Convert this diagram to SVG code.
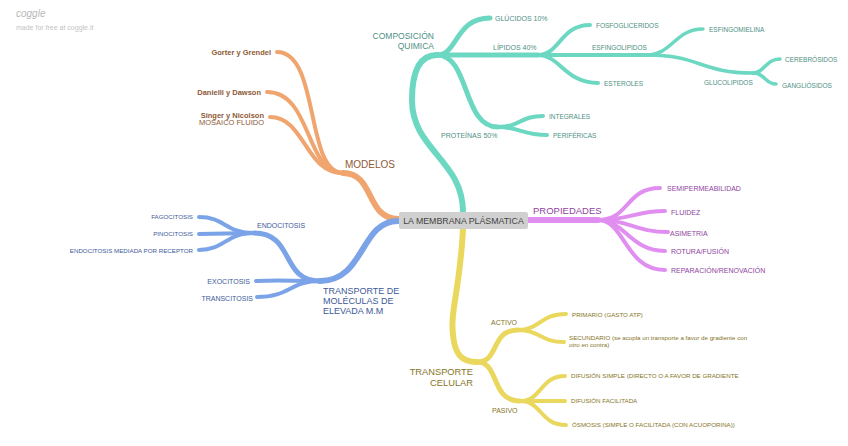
<svg xmlns="http://www.w3.org/2000/svg" width="848" height="446" viewBox="0 0 848 446">
<style>
text{font-family:"Liberation Sans",Arial,sans-serif}
.c{fill:none;stroke-linecap:round}
.t{stroke:#6dd8c2}.o{stroke:#f0a46e}.b{stroke:#7ba3e8}.p{stroke:#e08ef0}.y{stroke:#ead85e}
.w1{stroke-width:6}.w2{stroke-width:5}.w3{stroke-width:4}.w4{stroke-width:3.5}
.tt{fill:#4e8f84}.ot{fill:#8d5a36}.bt{fill:#3d5a99}.pt{fill:#8f43a0}.yt{fill:#857526}
.m{font-size:9px}.s{font-size:7px}.l{font-size:6.5px}.xs{font-size:6.2px}
.r{text-anchor:end}
</style>
<rect width="848" height="446" fill="#fff"/>
<text x="16" y="17" font-family="'DejaVu Sans',sans-serif" font-style="italic" font-size="10" fill="#b8b8b8">coggle</text>
<text x="16" y="30" font-size="7" fill="#c4c4c4">made for free at coggle.it</text>
<g id="connectors">
<path class="c t w1" d="M463,212 C463,160 412,150 412,100 C412,70 420,55 437,55"/>
<path class="c t w2" d="M437,55 C458,55 455,18 490,18"/>
<path class="c t w2" d="M437,55 L538,55"/>
<path class="c t w2" d="M437,55 C470,55 462,127 498,127"/>
<path class="c t w3" d="M538,55 C560,55 560,25 590,25"/>
<path class="c t w3" d="M538,55 L647,55"/>
<path class="c t w3" d="M538,55 C560,55 565,83 598,83"/>
<path class="c t w4" d="M647,55 C672,55 675,29 703,29"/>
<path class="c t w4" d="M647,55 C700,55 700,73 753,73"/>
<path class="c t w4" d="M753,73 C765,73 765,59 780,59"/>
<path class="c t w4" d="M753,73 C765,73 765,84 776,84"/>
<path class="c t w3" d="M498,127 C520,127 520,116 543,116"/>
<path class="c t w3" d="M498,127 C520,127 522,135 547,135"/>
<path class="c o w1" d="M398,219 C365,218 375,173 343,173"/>
<path class="c o w3" d="M343,173 C305,173 320,52 277,52"/>
<path class="c o w3" d="M343,173 C305,173 312,92 267,92"/>
<path class="c o w3" d="M343,173 C305,173 305,117 270,117"/>
<path class="c b w1" d="M398,221 C360,221 365,281 320,281"/>
<path class="c b w2" d="M320,281 C280,281 295,233 254,233"/>
<path class="c b w3" d="M320,281 C290,281 280,280 256,281"/>
<path class="c b w3" d="M320,281 C290,281 290,297 257,297"/>
<path class="c b w3" d="M254,233 C225,233 225,217 199,217"/>
<path class="c b w3" d="M254,233 L199,234"/>
<path class="c b w3" d="M254,233 C225,233 225,250 199,250"/>
<path class="c p w1" d="M528,220 L598,220"/>
<path class="c p w3" d="M598,220 C630,220 625,188 660,188"/>
<path class="c p w3" d="M598,220 C630,220 635,211 665,211"/>
<path class="c p w3" d="M598,220 C630,220 635,232 668,232"/>
<path class="c p w3" d="M598,220 C625,220 630,251 665,251"/>
<path class="c p w3" d="M598,220 C625,220 625,270 665,270"/>
<path class="c y w1" d="M463,229 C460,290 450,310 453,335 C455,355 462,362 477,362"/>
<path class="c y w2" d="M477,362 C500,362 490,330 518,330"/>
<path class="c y w2" d="M477,362 C500,362 490,401 520,401"/>
<path class="c y w3" d="M518,330 C540,330 540,314 566,314"/>
<path class="c y w3" d="M518,330 C540,330 540,342 564,342"/>
<path class="c y w3" d="M520,401 C542,401 540,376 565,376"/>
<path class="c y w3" d="M520,401 L565,401"/>
<path class="c y w3" d="M520,401 C542,401 540,425 566,425"/>
</g>
<g id="center">
<rect x="399" y="212" width="129" height="17" rx="2" fill="#d0d0d0"/>
<text x="463.5" y="223.8" text-anchor="middle" font-size="8.8" fill="#444">LA MEMBRANA PLÁSMATICA</text>
</g>
<g id="composicion"><text class="tt r" x="434" y="39" font-size="8.5">COMPOSICIÓN</text><text class="tt r" x="434" y="49" font-size="8.5">QUIMICA</text></g>
<g id="glucidos"><text class="tt s" x="495" y="21">GLÚCIDOS 10%</text></g>
<g id="lipidos"><text class="tt s" x="493" y="50">LÍPIDOS 40%</text></g>
<g id="proteinas"><text class="tt s" x="441" y="138">PROTEÍNAS 50%</text></g>
<g id="fosfo"><text class="tt l" x="596" y="27.5">FOSFOGLICERIDOS</text></g>
<g id="esfingolipidos"><text class="tt l" x="592" y="49.5">ESFINGOLIPIDOS</text></g>
<g id="esteroles"><text class="tt l" x="604" y="85.5">ESTEROLES</text></g>
<g id="esfingomielina"><text class="tt l" x="709" y="31.5">ESFINGOMIELINA</text></g>
<g id="glucolipidos"><text class="tt l" x="704" y="84.5">GLUCOLIPIDOS</text></g>
<g id="cerebrosidos"><text class="tt l" x="785" y="61.5">CEREBRÓSIDOS</text></g>
<g id="gangliosidos"><text class="tt l" x="782" y="87.5">GANGLIÓSIDOS</text></g>
<g id="integrales"><text class="tt l" x="549" y="119">INTEGRALES</text></g>
<g id="perifericas"><text class="tt l" x="553" y="137.5">PERIFÉRICAS</text></g>
<g id="modelos"><text class="ot" x="345" y="167.5" font-size="10">MODELOS</text></g>
<g id="gorter"><text class="ot r" x="271" y="54.5" font-size="7.5" font-weight="bold">Gorter y Grendel</text></g>
<g id="danielli"><text class="ot r" x="261" y="94.5" font-size="7.5" font-weight="bold">Danielli y Dawson</text></g>
<g id="singer"><text class="ot r" x="264" y="117.5" font-size="7.5" font-weight="bold">Singer y Nicolson</text><text class="ot r" x="264" y="125" font-size="7.5">MOSAICO FLUIDO</text></g>
<g id="transporte-mm"><text class="bt" x="323" y="294" font-size="9">TRANSPORTE DE</text><text class="bt" x="323" y="304" font-size="9">MOLÉCULAS DE</text><text class="bt" x="323" y="314" font-size="9">ELEVADA M.M</text></g>
<g id="endocitosis"><text class="bt s" x="257" y="228">ENDOCITOSIS</text></g>
<g id="exocitosis"><text class="bt s r" x="250" y="283.5">EXOCITOSIS</text></g>
<g id="transcitosis"><text class="bt s r" x="253" y="300.5">TRANSCITOSIS</text></g>
<g id="fagocitosis"><text class="bt xs r" x="193" y="219">FAGOCITOSIS</text></g>
<g id="pinocitosis"><text class="bt xs r" x="193" y="236">PINOCITOSIS</text></g>
<g id="receptor"><text class="bt xs r" x="193" y="252.5">ENDOCITOSIS MEDIADA POR RECEPTOR</text></g>
<g id="propiedades"><text class="pt" x="533" y="213.5" font-size="9.5">PROPIEDADES</text></g>
<g id="semi"><text class="pt s" x="667" y="190.5">SEMIPERMEABILIDAD</text></g>
<g id="fluidez"><text class="pt s" x="671" y="214.5">FLUIDEZ</text></g>
<g id="asimetria"><text class="pt s" x="670" y="235.5">ASIMETRIA</text></g>
<g id="rotura"><text class="pt s" x="671" y="253.5">ROTURA/FUSIÓN</text></g>
<g id="reparacion"><text class="pt s" x="671" y="272.5">REPARACIÓN/RENOVACIÓN</text></g>
<g id="transporte-celular"><text class="yt r" x="473" y="375" font-size="9.3">TRANSPORTE</text><text class="yt r" x="473" y="386" font-size="9.3">CELULAR</text></g>
<g id="activo"><text class="yt s" x="491" y="324.5">ACTIVO</text></g>
<g id="pasivo"><text class="yt s" x="492" y="412.5">PASIVO</text></g>
<g id="primario"><text class="yt xs" x="572" y="317">PRIMARIO (GASTO ATP)</text></g>
<g id="secundario"><text class="yt xs" x="569" y="340">SECUNDARIO (se acopla un transporte a favor de gradiente con</text><text class="yt xs" x="569" y="347">otro en contra)</text></g>
<g id="difsimple"><text class="yt xs" x="571" y="378">DIFUSIÓN SIMPLE (DIRECTO O A FAVOR DE GRADIENTE</text></g>
<g id="diffacil"><text class="yt xs" x="571" y="403">DIFUSIÓN FACILITADA</text></g>
<g id="osmosis"><text class="yt xs" x="572" y="427">ÓSMOSIS (SIMPLE O FACILITADA (CON ACUOPORINA))</text></g>
</svg>
